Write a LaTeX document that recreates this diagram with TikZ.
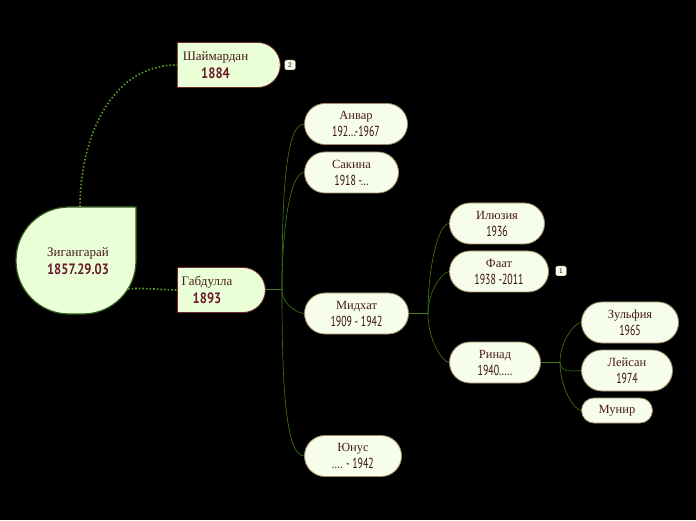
\documentclass[tikz,border=0pt]{standalone}
\usepackage{fontspec}
\setmainfont{Liberation Serif}
\newfontfamily\datefont[FakeStretch=0.68]{PT Sans}
\newfontfamily\bolddate[FakeStretch=0.84]{PT Sans Bold}
\usetikzlibrary{shapes.misc}
\definecolor{kidfill}{HTML}{F6FDEA}
\definecolor{kidline}{HTML}{A08C66}
\definecolor{parfill}{HTML}{EAFFD8}
\definecolor{parline}{HTML}{6B2A2A}
\definecolor{rootline}{HTML}{2F5C1A}
\definecolor{namecol}{HTML}{4A1C1C}
\definecolor{datecol}{HTML}{3A1010}
\definecolor{boldcol}{HTML}{6A1A2A}
\definecolor{linkcol}{HTML}{3F7A12}
\definecolor{dotcol}{HTML}{5A9E1E}

\begin{document}
\begin{tikzpicture}[x=1pt, y=1pt,
  kid/.style = {rounded rectangle, draw=kidline, fill=kidfill, line width=0.8pt, minimum height=41pt, inner sep=2pt, align=center, text=namecol, font=\fontsize{12.5}{17}\selectfont},
  parent/.style = {rounded rectangle, rounded rectangle left arc=none, draw=parline, fill=parfill, line width=0.8pt, minimum height=45pt, inner sep=2pt, align=center, text=namecol, font=\fontsize{13}{18}\selectfont},
  badge/.style = {draw=parline, fill=kidfill, rounded corners=2pt, minimum width=11pt, minimum height=10pt, inner sep=0pt, font=\fontsize{7}{7}\selectfont\sffamily},
  link/.style = {draw=linkcol, line width=0.6pt},
  stem/.style = {draw=dotcol!80!black, line width=1pt},
  dots/.style = {draw=dotcol, line width=1.6pt, dotted},
  up/.style = {out=90, in=180, out looseness=1.3, in looseness=0.3},
  down/.style = {out=-90, in=180, out looseness=1.3, in looseness=0.3},
]
\useasboundingbox[fill=black] (0,0) rectangle (696,520);

% root teardrop
\draw[fill=parfill, draw=rootline, line width=1.2pt] (136,313) -- (136,259) arc (0:-90:53) -- (69,206) arc (270:180:53) -- (16,260) arc (180:90:53) -- cycle;
\node[align=center, text=namecol, font=\fontsize{13}{18}\selectfont] (root) at (78,259) {Зигангарай\\{\bolddate\fontsize{15}{18}\selectfont\color{boldcol}1857.29.03}};
\coordinate (roottop) at (80,313);
\coordinate (rootside) at (128,231);

% first level
\node[parent, minimum width=107pt] (shay) at (226.5,455) {Шаймардан\kern22pt\\{\bolddate\fontsize{15}{18}\selectfont\color{boldcol}1884}\kern22pt};
\node[badge] (b2) at (290,455) {2};
\node[parent, minimum width=92pt] (gab) at (219,230) {Габдулла\kern24pt\\{\bolddate\fontsize{15}{18}\selectfont\color{boldcol}1893}\kern24pt};

% children of Габдулла
\node[kid, minimum width=107pt] (anvar) at (356,396) {Анвар\\{\datefont\fontsize{14.5}{17}\selectfont\color{datecol}192...-1967}};
\node[kid, minimum width=98pt] (sakina) at (351.5,347.5) {Сакина\\{\datefont\fontsize{14.5}{17}\selectfont\color{datecol}1918 -...}};
\node[kid, minimum width=108pt] (midhat) at (356.5,206.5) {Мидхат\\{\datefont\fontsize{14.5}{17}\selectfont\color{datecol}1909 - 1942}};
\node[kid, minimum width=101pt] (yunus) at (353,64) {Юнус\\{\datefont\fontsize{14.5}{17}\selectfont\color{datecol}.... - 1942}};

% children of Мидхат
\node[kid, minimum width=99pt] (ilyuz) at (497,296.5) {Илюзия\\{\datefont\fontsize{14.5}{17}\selectfont\color{datecol}1936}};
\node[kid, minimum width=103pt] (faat) at (499,248.5) {Фаат\\{\datefont\fontsize{14.5}{17}\selectfont\color{datecol}1938 -2011}};
\node[badge] (b1) at (561,249) {1};
\node[kid, minimum width=95pt] (rinad) at (495,157.5) {Ринад\\{\datefont\fontsize{14.5}{17}\selectfont\color{datecol}1940.....}};

% children of Ринад
\node[kid, minimum width=101pt] (zulf) at (630,197.5) {Зульфия\\{\datefont\fontsize{14.5}{17}\selectfont\color{datecol}1965}};
\node[kid, minimum width=95pt] (leys) at (627,149.5) {Лейсан\\{\datefont\fontsize{14.5}{17}\selectfont\color{datecol}1974}};
\node[kid, minimum width=75pt, minimum height=25pt] (munir) at (617,109.5) {Мунир};

% connectors
\draw[dots] (roottop) to[out=90, in=180] (shay.west);
\draw[dots] (rootside) to[out=5, in=180] (gab.west);

\coordinate (jg) at (282,230);
\draw[stem] (gab.east) -- (jg);
\foreach \k in {anvar, sakina}
  \draw[link] (jg) to[up] (\k.west);
\foreach \k in {midhat, yunus}
  \draw[link] (jg) to[down] (\k.west);

\coordinate (jm) at (428,206.5);
\draw[stem] (midhat.east) -- (jm);
\foreach \k in {ilyuz, faat}
  \draw[link] (jm) to[up] (\k.west);
\draw[link] (jm) to[down] (rinad.west);

\coordinate (jr) at (560,157.5);
\draw[stem] (rinad.east) -- (jr);
\draw[link] (jr) to[up] (zulf.west);
\foreach \k in {leys, munir}
  \draw[link] (jr) to[down] (\k.west);
\end{tikzpicture}
\end{document}
